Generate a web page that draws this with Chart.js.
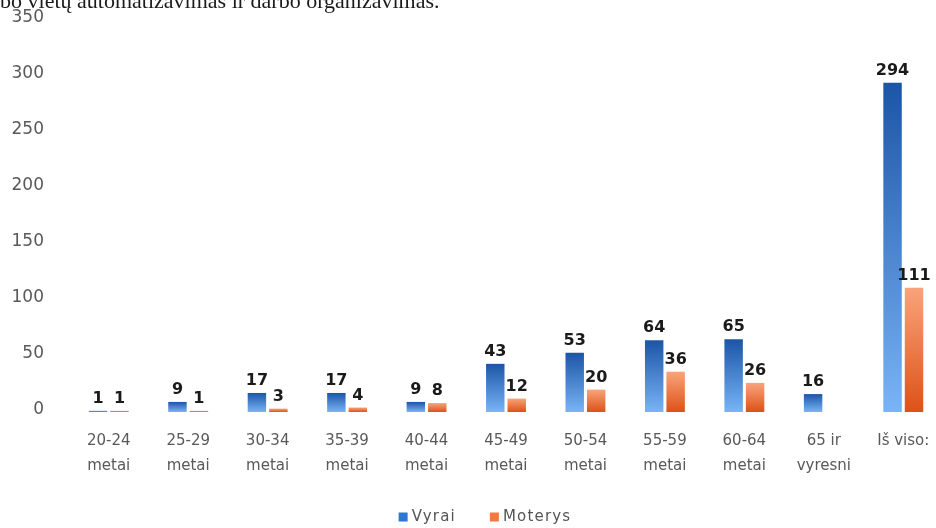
<!DOCTYPE html>
<html>
<head>
<meta charset="utf-8">
<script src="https://cdn.jsdelivr.net/npm/chart.js@4/dist/chart.umd.min.js"></script>
<style>
  html, body { margin: 0; padding: 0; background: #ffffff; overflow: hidden; }
  #wrap { width: 936px; height: 528px; position: relative; overflow: hidden; }
  #c { position: absolute; left: 0; top: 0; }
</style>
</head>
<body>
<div id="wrap"><canvas id="c" width="944" height="528"></canvas></div>
<script>
const categories = [
  ["20-24", "metai"], ["25-29", "metai"], ["30-34", "metai"], ["35-39", "metai"],
  ["40-44", "metai"], ["45-49", "metai"], ["50-54", "metai"], ["55-59", "metai"],
  ["60-64", "metai"], ["65 ir", "vyresni"], ["Iš viso:"]
];
const vyrai   = [1, 9, 17, 17, 9, 43, 53, 64, 65, 16, 294];
const moterys = [1, 1, 3, 4, 8, 12, 20, 36, 26, null, 111];
const seriesNames = ["Vyrai", "Moterys"];
const legendColors = ["#2e76d4", "#f07a42"];
const headerText = "darbo vietų automatizavimas ir darbo organizavimas.";

const FONT = "'DejaVu Sans', 'Liberation Sans', sans-serif";

function barGradient(ctx, topColor, bottomColor) {
  const chart = ctx.chart;
  const area = chart.chartArea;
  if (!area || ctx.parsed === undefined || ctx.raw === null || ctx.raw === undefined) return topColor;
  const ys = chart.scales.y;
  const yTop = ys.getPixelForValue(ctx.raw);
  const yBase = ys.getPixelForValue(0);
  const g = chart.ctx.createLinearGradient(0, yTop, 0, Math.max(yBase, yTop + 1));
  g.addColorStop(0, topColor);
  g.addColorStop(1, bottomColor);
  return g;
}

function resetSpacing(c) { if ('letterSpacing' in c) c.letterSpacing = "0px"; }

const valueLabels = {
  id: 'valueLabels',
  afterDatasetsDraw(chart) {
    const c = chart.ctx;
    c.save();
    resetSpacing(c);
    c.font = "bold 16px " + FONT;
    c.fillStyle = "#1a1a1a";
    c.textAlign = "center";
    c.textBaseline = "alphabetic";
    chart.data.datasets.forEach((ds, di) => {
      const meta = chart.getDatasetMeta(di);
      meta.data.forEach((bar, i) => {
        const v = ds.data[i];
        if (v === null || v === undefined) return;
        c.fillText(String(v), bar.x, bar.y - 8);
      });
    });
    c.restore();
  }
};

const customLegend = {
  id: 'customLegend',
  afterDraw(chart) {
    const c = chart.ctx;
    c.save();
    c.font = "15px " + FONT;
    if ('letterSpacing' in c) c.letterSpacing = "1.2px";
    c.textBaseline = "middle";
    c.textAlign = "left";
    const y = 517;
    const box = 9, gapBoxText = 4, gapItems = 34;
    const widths = seriesNames.map(n => c.measureText(n).width);
    let total = 0;
    widths.forEach((w, i) => { total += box + gapBoxText + w; if (i < widths.length - 1) total += gapItems; });
    let x = 485 - total / 2;
    seriesNames.forEach((n, i) => {
      c.fillStyle = legendColors[i];
      c.fillRect(x, y - box / 2, box, box);
      x += box + gapBoxText;
      c.fillStyle = "#555555";
      c.fillText(n, x, y);
      x += widths[i] + gapItems;
    });
    resetSpacing(c);
    c.restore();
    resetSpacing(c);
  }
};

const header = {
  id: 'header',
  beforeDraw(chart) {
    const c = chart.ctx;
    resetSpacing(c);
    c.save();
    c.font = "22px 'Liberation Serif', 'DejaVu Serif', serif";
    c.fillStyle = "#1a1a1a";
    c.textAlign = "left";
    c.textBaseline = "alphabetic";
    c.fillText(headerText, -28, 8);
    c.restore();
  }
};

new Chart(document.getElementById('c'), {
  type: 'bar',
  data: {
    labels: categories,
    datasets: [
      {
        label: seriesNames[0],
        data: vyrai,
        backgroundColor: (ctx) => barGradient(ctx, "#1b55a6", "#78b4f6"),
        categoryPercentage: 0.54,
        barPercentage: 0.86
      },
      {
        label: seriesNames[1],
        data: moterys,
        backgroundColor: (ctx) => barGradient(ctx, "#f9a47a", "#dc5218"),
        categoryPercentage: 0.54,
        barPercentage: 0.86
      }
    ]
  },
  options: {
    responsive: false,
    animation: false,
    layout: { padding: { top: 20, right: 1, left: 0, bottom: 0 } },
    plugins: {
      tooltip: { enabled: false },
      legend: { display: false }
    },
    scales: {
      x: {
        grid: { display: false, drawTicks: false },
        border: { display: false },
        ticks: {
          font: { family: FONT, size: 15, lineHeight: 1.667 },
          color: "#595959",
          padding: 17,
          maxRotation: 0,
          autoSkip: false
        },
        afterFit(scale) {
          scale.height = 116;
          scale.paddingTop = 0; scale.paddingBottom = 0;
          scale.paddingLeft = 0; scale.paddingRight = 0;
        }
      },
      y: {
        min: 0,
        max: 350,
        grid: { display: false, drawTicks: false },
        border: { display: false },
        ticks: {
          stepSize: 50,
          font: { family: FONT, size: 17 },
          color: "#595959",
          padding: 25,
          labelOffset: -2
        },
        afterFit(scale) {
          scale.width = 69;
          scale.paddingTop = 0; scale.paddingBottom = 0;
        }
      }
    }
  },
  plugins: [valueLabels, customLegend, header]
});
</script>
</body>
</html>
